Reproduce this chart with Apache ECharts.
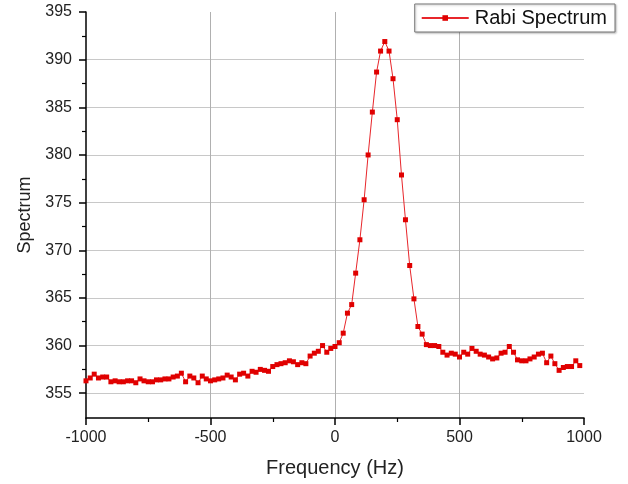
<!DOCTYPE html>
<html>
<head>
<meta charset="utf-8">
<script src="https://cdn.jsdelivr.net/npm/echarts@6/dist/echarts.min.js"></script>
<style>
  html, body { margin: 0; padding: 0; background: #fff; }
  #main { width: 628px; height: 484px; }
</style>
</head>
<body>
<div id="main"></div>
<script>
// sample frequencies (Hz)
var freq = [
  -1000, -983, -967, -950, -933, -917,
  -900, -883, -867, -850, -833, -817,
  -800, -783, -767, -750, -733, -717,
  -700, -683, -667, -650, -633, -617,
  -600, -583, -567, -550, -533, -517,
  -500, -483, -467, -450, -433, -417,
  -400, -383, -367, -350, -333, -317,
  -300, -283, -267, -250, -233, -217,
  -200, -183, -167, -150, -133, -117,
  -100, -83, -67, -50, -33, -17,
  0, 17, 33, 50, 67, 83,
  100, 117, 133, 150, 167, 183,
  200, 217, 233, 250, 267, 283,
  300, 317, 333, 350, 367, 383,
  400, 417, 433, 450, 467, 483,
  500, 517, 533, 550, 567, 583,
  600, 617, 633, 650, 667, 683,
  700, 717, 733, 750, 767, 783,
  800, 817, 833, 850, 867, 883,
  900, 917, 933, 950, 967, 983
];
// measured spectrum
var spectrum = [
  356.3, 356.6, 357.0, 356.6, 356.7, 356.7,
  356.2, 356.3, 356.2, 356.2, 356.3, 356.3,
  356.1, 356.5, 356.3, 356.2, 356.2, 356.4,
  356.4, 356.5, 356.5, 356.7, 356.8, 357.1,
  356.2, 356.8, 356.6, 356.1, 356.8, 356.5,
  356.3, 356.4, 356.5, 356.6, 356.9, 356.7,
  356.4, 357.0, 357.1, 356.8, 357.3, 357.2,
  357.5, 357.4, 357.3, 357.8, 358.0, 358.1,
  358.2, 358.4, 358.3, 358.0, 358.2, 358.1,
  358.9, 359.2, 359.4, 360.0, 359.3, 359.7,
  359.9, 360.3, 361.3, 363.4, 364.3, 367.6,
  371.1, 375.3, 380.0, 384.5, 388.7, 390.9,
  391.9, 390.9, 388.0, 383.7, 377.9, 373.2,
  368.4, 364.9, 362.0, 361.2, 360.1, 360.0,
  360.0, 359.9, 359.3, 359.0, 359.2, 359.1,
  358.8, 359.3, 359.1, 359.7, 359.4, 359.1,
  359.0, 358.8, 358.6, 358.7, 359.2, 359.3,
  359.9, 359.3, 358.5, 358.4, 358.4, 358.6,
  358.8, 359.1, 359.2, 358.2, 358.9, 358.1,
  357.4, 357.7, 357.8, 357.8, 358.4, 357.9
];
var yMajor = [355, 360, 365, 370, 375, 380, 385, 390, 395];
var yMinor = [357.5, 362.5, 367.5, 372.5, 377.5, 382.5, 387.5, 392.5];

var points = freq.map(function (f, i) { return [f, spectrum[i]]; });

var font = 'Liberation Sans, Arial, sans-serif';
var myChart = echarts.init(document.getElementById('main'));
myChart.setOption({
  animation: false,
  backgroundColor: '#fff',
  grid: { left: 86, right: 44, top: 12, bottom: 66 },
  legend: {
    data: ['Rabi Spectrum'],
    right: 13,
    top: 4,
    padding: [4, 8, 4, 6],
    itemWidth: 47,
    itemHeight: 7,
    itemGap: 4,
    borderColor: '#777',
    borderWidth: 1,
    shadowColor: 'rgba(0,0,0,0.25)',
    shadowBlur: 2,
    shadowOffsetX: 1,
    shadowOffsetY: 1,
    backgroundColor: '#fff',
    textStyle: { fontFamily: font, fontSize: 20, color: '#111', padding: [0, 0, 0, 1] }
  },
  xAxis: {
    type: 'value',
    min: -1000,
    max: 1000,
    interval: 500,
    name: 'Frequency (Hz)',
    nameLocation: 'middle',
    nameGap: 40,
    nameTextStyle: { fontFamily: font, fontSize: 20, color: '#222' },
    axisLine: { onZero: false, lineStyle: { color: '#000', width: 1.5 } },
    axisTick: { length: 7, lineStyle: { color: '#000', width: 1.5 } },
    minorTick: { show: true, splitNumber: 2, length: 4, lineStyle: { color: '#000', width: 1.2 } },
    axisLabel: {
      fontFamily: font, fontSize: 16, color: '#222', margin: 12,
      formatter: function (v) { return String(v); }
    },
    splitLine: { show: true, showMinLine: false, showMaxLine: false, lineStyle: { color: '#b0b0b0', width: 1 } }
  },
  yAxis: [{
    type: 'value',
    min: 352.4,
    max: 395,
    name: 'Spectrum',
    nameLocation: 'middle',
    nameGap: 52,
    nameTextStyle: { fontFamily: font, fontSize: 18, color: '#222' },
    axisLine: { show: true, onZero: false, lineStyle: { color: '#000', width: 1.5 } },
    axisTick: { show: true, length: 7, customValues: yMajor, lineStyle: { color: '#000', width: 1.5 } },
    axisLabel: { customValues: yMajor, fontFamily: font, fontSize: 16, color: '#222', margin: 14 },
    splitLine: { show: true, showMaxLine: false, lineStyle: { color: '#c8c8c8', width: 1 } }
  }, {
    type: 'value',
    min: 352.4,
    max: 395,
    position: 'left',
    axisLine: { show: false, onZero: false },
    axisTick: { show: true, length: 4, customValues: yMinor, lineStyle: { color: '#000', width: 1.2 } },
    axisLabel: { show: false },
    splitLine: { show: false }
  }],
  series: [{
    name: 'Rabi Spectrum',
    type: 'line',
    data: points,
    symbol: 'rect',
    symbolSize: 5,
    showAllSymbol: true,
    lineStyle: { color: '#e8262b', width: 1 },
    itemStyle: { color: '#e00000' }
  }]
});
</script>
</body>
</html>
